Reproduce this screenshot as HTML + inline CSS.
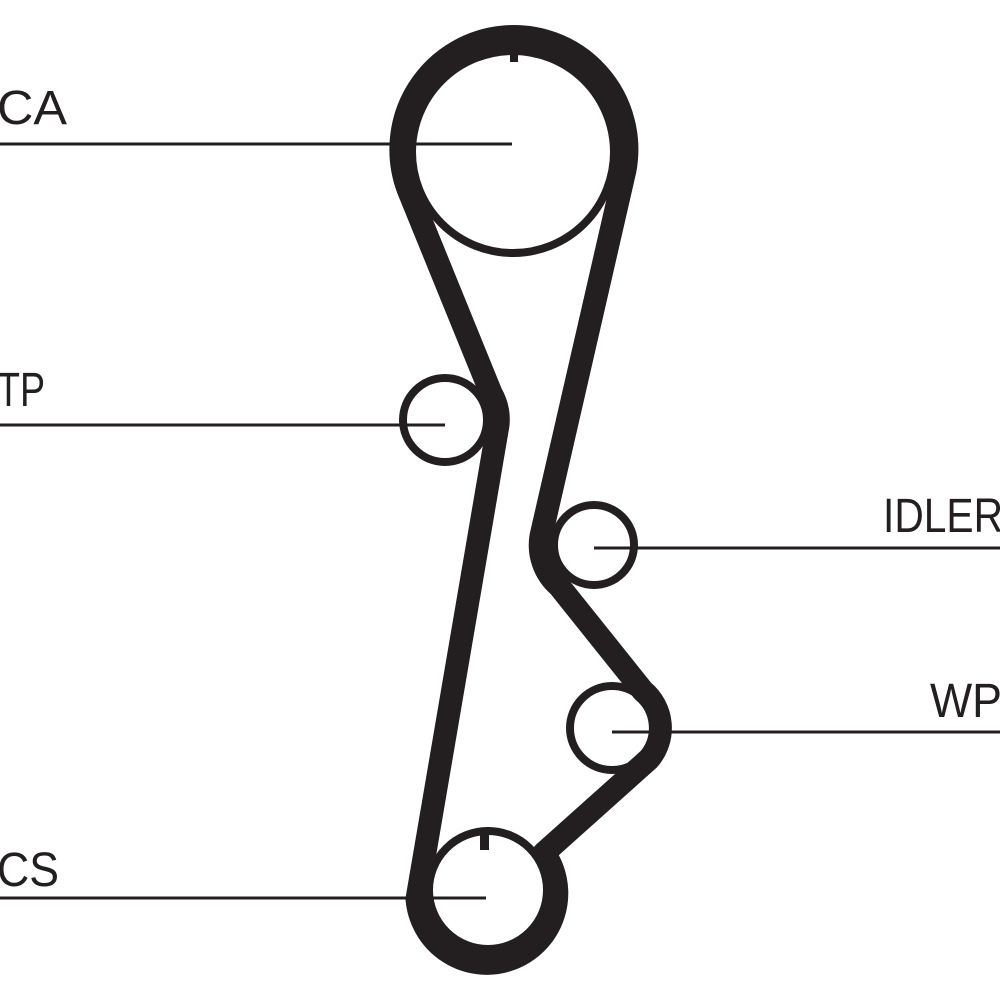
<!DOCTYPE html>
<html><head><style>body{margin:0;background:#fff}svg{display:block}text{font-family:"Liberation Sans",sans-serif;font-size:48px;fill:#231f20}</style></head>
<body>
<svg width="1000" height="1000" viewBox="0 0 1000 1000">
<g fill="none" stroke="#231f20">
<circle cx="513" cy="152" r="101" stroke-width="8"/>
<circle cx="445" cy="420" r="42" stroke-width="8"/>
<circle cx="594" cy="545" r="40" stroke-width="8"/>
<circle cx="612" cy="728" r="42" stroke-width="8"/>
<circle cx="488" cy="890" r="59" stroke-width="8"/>
<path stroke-width="23" stroke-linejoin="round" d="M417 899 A70 70 0 1 0 544 853 L649 759 A48 48 0 0 0 643 691 L559 586 A54 54 0 0 1 541 536 L625 170 A113 113 0 1 0 408 189 L491 393 A53 53 0 0 1 498 425 Z"/>
<g stroke-width="3">
<line x1="0" y1="144" x2="512" y2="144"/>
<line x1="0" y1="425" x2="445" y2="425"/>
<line x1="594" y1="548" x2="1000" y2="548"/>
<line x1="612" y1="732" x2="1000" y2="732"/>
<line x1="0" y1="898" x2="486" y2="898"/>
</g>
</g>
<rect x="510" y="40" width="8" height="22" fill="#231f20"/>
<rect x="480" y="830" width="9" height="20" fill="#231f20"/>
<text x="-3" y="124" textLength="70" lengthAdjust="spacingAndGlyphs">CA</text>
<text x="-3" y="406" textLength="48" lengthAdjust="spacingAndGlyphs">TP</text>
<text x="883" y="532" textLength="120" lengthAdjust="spacingAndGlyphs">IDLER</text>
<text x="930" y="717" textLength="72" lengthAdjust="spacingAndGlyphs">WP</text>
<text x="-3" y="886" textLength="62" lengthAdjust="spacingAndGlyphs">CS</text>
</svg>
</body></html>
